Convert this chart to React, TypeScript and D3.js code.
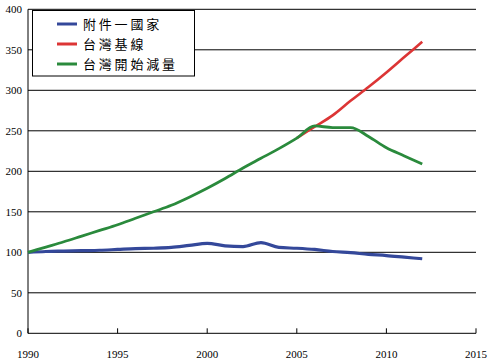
import React from "react";
import * as d3 from "d3";

const years = d3.range(1990, 2013);
const annex1 = [100, 101, 101.5, 102, 102.5, 103.5, 104.5, 105, 106, 108.5, 111, 108, 107, 112, 106, 105, 103.5, 101, 99.5, 97.5, 96, 94, 92];
const greenVals = [100, 106.5, 113, 120, 127, 134, 142, 150, 158, 168, 179, 191, 204, 216, 228, 241, 256, 254, 254, 243, 229, 219, 209];
const redYears = [2005, 2006, 2007, 2008, 2009, 2010, 2011, 2012];
const redVals = [241, 255, 269, 287, 304, 322, 341, 360];
const xTicks = [1990, 1995, 2000, 2005, 2010, 2015];
const yTicks = [0, 50, 100, 150, 200, 250, 300, 350, 400];
const seriesNames = ["附件一國家", "台灣基線", "台灣開始減量"];
const colors = ["#34489a", "#dc3535", "#2a8a3c"];

export default function App() {
  const x = d3.scaleLinear().domain([1990, 2015]).range([28, 476]);
  const y = d3.scaleLinear().domain([0, 400]).range([333.3, 9.3]);
  const line = d3.line<[number, number]>().x((d) => x(d[0])).y((d) => y(d[1])).curve(d3.curveMonotoneX);
  const blue = years.map((yr, i) => [yr, annex1[i]] as [number, number]);
  const green = years.map((yr, i) => [yr, greenVals[i]] as [number, number]);
  const red = redYears.map((yr, i) => [yr, redVals[i]] as [number, number]);
  const tickFont = "'Liberation Serif', 'DejaVu Serif', serif";
  return (
    <svg width={490} height={360} style={{ position: "absolute", left: 0, top: 0, background: "#fff" }}>
      {yTicks.map((t) => (
        <g key={t}>
          {t > 0 && <line x1={x(1990)} x2={x(2015)} y1={y(t)} y2={y(t)} stroke="#000" strokeWidth={1} />}
          <text x={22} y={y(t) + 4} textAnchor="end" fontFamily={tickFont} fontSize={11} fill="#000">{t}</text>
        </g>
      ))}
      <line x1={x(1990)} x2={x(1990)} y1={y(0)} y2={y(400)} stroke="#000" strokeWidth={1} />
      <line x1={x(1990)} x2={x(2015)} y1={y(0)} y2={y(0)} stroke="#000" strokeWidth={1} />
      {xTicks.map((t) => (
        <g key={t}>
          <line x1={x(t)} x2={x(t)} y1={y(0)} y2={y(0) - 5} stroke="#000" strokeWidth={1} />
          <text x={x(t)} y={358} textAnchor="middle" fontFamily={tickFont} fontSize={11} fill="#000">{t}</text>
        </g>
      ))}
      <path d={line(blue) || ""} fill="none" stroke={colors[0]} strokeWidth={3.2} />
      <path d={line(red) || ""} fill="none" stroke={colors[1]} strokeWidth={2.6} />
      <path d={line(green) || ""} fill="none" stroke={colors[2]} strokeWidth={2.8} />
      <rect x={32.5} y={10.5} width={162} height={65.5} fill="#fff" stroke="#000" strokeWidth={1} />
      {seriesNames.map((n, i) => (
        <g key={n}>
          <line x1={57} x2={77} y1={24 + i * 20} y2={24 + i * 20} stroke={colors[i]} strokeWidth={3} />
          <text x={83} y={24 + i * 20 + 5} fontFamily="'Noto Sans CJK TC', sans-serif" fontSize={13} letterSpacing={2.8} fill="#000">{n}</text>
        </g>
      ))}
    </svg>
  );
}
